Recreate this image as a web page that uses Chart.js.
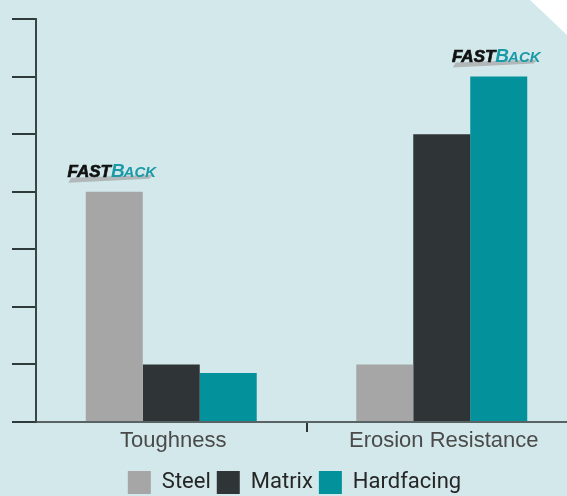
<!DOCTYPE html>
<html><head><meta charset="utf-8">
<script src="https://cdn.jsdelivr.net/npm/chart.js@4/dist/chart.umd.min.js"></script>
<style>
html,body{margin:0;padding:0;background:#d2e8ea;overflow:hidden;width:567px;height:496px}
#wrap{position:relative;width:581px;height:504px}
</style></head><body><div id="wrap"><canvas id="c"></canvas></div>
<script>
const categories = ['Toughness', 'Erosion Resistance'];
const seriesNames = ['Steel', 'Matrix', 'Hardfacing'];
const steel = [4, 1];
const matrix = [1, 5];
const hardfacing = [0.85, 6];
const yMin = 0, yMax = 7, yStep = 1;
const logoMarks = [[0, 0], [2, 1]]; // [series index, category index] bars topped by the FASTBACK mark
const colors = ['#a6a6a6', '#2f3436', '#03919c'];

const bgPlugin = {
  id: 'bg',
  beforeDraw(chart) {
    const ctx = chart.ctx, w = chart.width, h = chart.height;
    ctx.save();
    ctx.fillStyle = '#d2e8ea';
    ctx.fillRect(0, 0, w, h);
    ctx.fillStyle = '#ffffff';
    ctx.beginPath();
    ctx.moveTo(530, 0); ctx.lineTo(w + 20, 0); ctx.lineTo(w + 20, (w + 20 - 530) * 0.946); ctx.closePath();
    ctx.fill();
    ctx.restore();
  }
};

const logoPlugin = {
  id: 'logo',
  afterDatasetsDraw(chart) {
    const ctx = chart.ctx;
    logoMarks.forEach(([s, c]) => {
      const bar = chart.getDatasetMeta(s).data[c];
      const cx = bar.x - 2, by = bar.y - 15;
      ctx.save();
      // swoosh
      ctx.fillStyle = '#b2b8b9';
      ctx.beginPath();
      ctx.moveTo(cx - 41, by + 1);
      ctx.lineTo(cx + 41, by - 2);
      ctx.lineTo(cx + 37, by + 2);
      ctx.lineTo(cx - 44, by + 6);
      ctx.closePath();
      ctx.fill();
      ctx.textBaseline = 'alphabetic';
      const fF = 'italic 900 17px "Liberation Sans"';
      const fB = 'italic bold 19px "Liberation Sans"';
      const fA = 'italic bold 15px "Liberation Sans"';
      ctx.font = fF; const wF = ctx.measureText('FAST').width;
      ctx.font = fB; const wB = ctx.measureText('B').width;
      ctx.font = fA; const wA = ctx.measureText('ACK').width;
      let x = cx - (wF + wB + wA) / 2;
      ctx.fillStyle = '#111111';
      ctx.font = fF;
      ctx.fillText('FAST', x, by);
      ctx.lineWidth = 0.7; ctx.strokeStyle = '#111111';
      ctx.strokeText('FAST', x, by);
      x += wF;
      ctx.fillStyle = '#1a9aa6';
      ctx.font = fB;
      ctx.fillText('B', x, by);
      x += wB - 1;
      ctx.font = fA;
      ctx.fillText('ACK', x, by);
      ctx.restore();
    });
  }
};

new Chart(document.getElementById('c'), {
  type: 'bar',
  data: {
    labels: categories,
    datasets: [
      { label: seriesNames[0], data: steel, backgroundColor: colors[0] },
      { label: seriesNames[1], data: matrix, backgroundColor: colors[1] },
      { label: seriesNames[2], data: hardfacing, backgroundColor: colors[2] }
    ]
  },
  options: {
    responsive: true,
    maintainAspectRatio: false,
    animation: false,
    devicePixelRatio: 1,
    categoryPercentage: 0.632,
    barPercentage: 1,
    layout: { padding: { left: 12, top: 19, right: 4, bottom: 0 } },
    plugins: {
      tooltip: { enabled: false },
      legend: {
        position: 'bottom',
        labels: {
          boxWidth: 23, boxHeight: 23, padding: 6,
          color: '#262626',
          font: { family: '"Liberation Sans Narrow", Roboto, sans-serif', size: 22 }
        }
      }
    },
    scales: {
      x: {
        offset: true,
        afterFit(scale) { scale.height = 43; },
        border: { display: true, color: '#5a6364', width: 2 },
        grid: {
          display: true, drawOnChartArea: false, drawTicks: true, tickLength: 10, offset: true,
          lineWidth: 2,
          color: (ctx) => ctx.index === 1 ? '#2f3436' : 'rgba(0,0,0,0)'
        },
        ticks: {
          color: '#4a4a4a', labelOffset: 2, padding: -4,
          font: { family: '"Liberation Sans", Arial, sans-serif', size: 22 }
        }
      },
      y: {
        min: yMin, max: yMax,
        border: { display: true, color: '#3a4546', width: 2 },
        grid: { display: true, drawOnChartArea: false, drawTicks: true, tickLength: 24, color: '#2f3a3b', lineWidth: 2 },
        ticks: { display: false, stepSize: yStep }
      }
    }
  },
  plugins: [bgPlugin, logoPlugin]
});
</script></body></html>
